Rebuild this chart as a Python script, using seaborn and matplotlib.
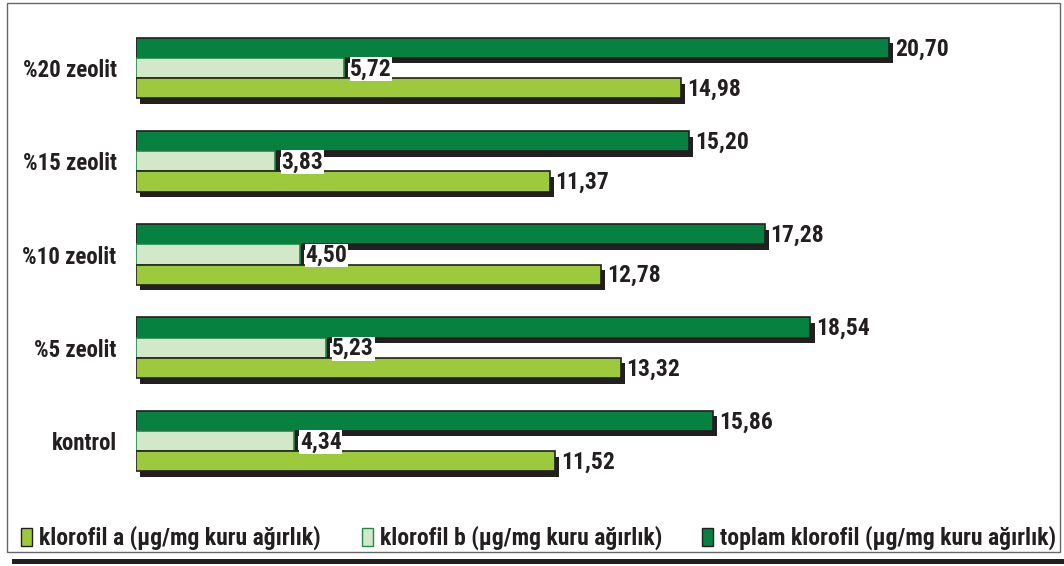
import numpy as np
import pandas as pd
import matplotlib
matplotlib.use('Agg')
import matplotlib.pyplot as plt
import seaborn as sns
from matplotlib import patheffects as pe
from matplotlib.patches import Rectangle, Patch
from matplotlib import font_manager as fm

categories = ['%20 zeolit', '%15 zeolit', '%10 zeolit', '%5 zeolit', 'kontrol']
klorofil_a = [14.98, 11.37, 12.78, 13.32, 11.52]
klorofil_b = [5.72, 3.83, 4.50, 5.23, 4.34]
toplam = [20.70, 15.20, 17.28, 18.54, 15.86]
series_names = ['klorofil a (µg/mg kuru ağırlık)',
                'klorofil b (µg/mg kuru ağırlık)',
                'toplam klorofil (µg/mg kuru ağırlık)']

col_a, col_b, col_t = '#9dca3c', '#d2e8c8', '#078140'
edge_a, edge_b, edge_t = '#231f20', '#1f8a4c', '#231f20'
shadow = '#231f20'

sns.set_theme(style='white')
bold_fams = {f.name for f in fm.fontManager.ttflist
             if isinstance(f.weight, int) and f.weight >= 700}
candidates = ['Liberation Sans Narrow', 'Archivo Narrow', 'Roboto Condensed', 'PT Sans Narrow',
              'Fira Sans Condensed', 'IBM Plex Sans Condensed', 'Asap Condensed',
              'Encode Sans Condensed', 'Saira SemiCondensed', 'Liberation Sans']
fam = next(c for c in candidates if c in bold_fams)
plt.rcParams['font.family'] = [fam, 'DejaVu Sans']
plt.rcParams['font.weight'] = 'bold'

df = pd.DataFrame({
    'category': categories * 3,
    'series': [series_names[0]] * 5 + [series_names[1]] * 5 + [series_names[2]] * 5,
    'value': klorofil_a + klorofil_b + toplam,
})

W, H = 1064, 566
fig = plt.figure(figsize=(W / 100, H / 100), dpi=100)
ax = fig.add_axes([136 / W, 1 - 487.6 / H, 909.5 / W, (487.6 - 21.4) / H])

hue_order = [series_names[2], series_names[1], series_names[0]]
palette = {series_names[0]: col_a, series_names[1]: col_b, series_names[2]: col_t}
sns.barplot(data=df, x='value', y='category', hue='series', hue_order=hue_order,
            order=categories, palette=palette, orient='h', width=0.65, gap=0,
            legend=False, ax=ax, saturation=1)

edges = [edge_t, edge_b, edge_a]
zs = [2, 3, 4]
for cont, ec, z in zip(ax.containers, edges, zs):
    for p in cont.patches:
        p.set_edgecolor(ec)
        p.set_linewidth(1.2)
        p.set_zorder(z)
        p.set_path_effects([pe.SimplePatchShadow(offset=(3, -4), shadow_rgbFace=shadow, alpha=1.0),
                            pe.Normal()])
    for p in cont.patches:
        v = p.get_width()
        yc = p.get_y() + p.get_height() / 2
        ax.annotate(f'{v:.2f}'.replace('.', ','), xy=(v, yc), xytext=(6, -1),
                    textcoords='offset pixels', ha='left', va='center',
                    fontsize=17, fontweight='bold', color='#231f20', zorder=6,
                    bbox=dict(facecolor='white', edgecolor='none', pad=0.3))

ax.set_xlim(0, 25)
ax.set_xlabel('')
ax.set_ylabel('')
ax.set_xticks([])
ax.tick_params(axis='y', length=0, pad=14, labelsize=16.5)
for lab in ax.get_yticklabels():
    lab.set_fontweight('bold')
    lab.set_color('#231f20')
for s in ax.spines.values():
    s.set_visible(False)
ax.set_facecolor('none')

handles = [Patch(facecolor=col_a, edgecolor=edge_a, lw=1),
           Patch(facecolor=col_b, edgecolor=edge_b, lw=1),
           Patch(facecolor=col_t, edgecolor=edge_t, lw=1)]
legend_x = [21, 362, 702]
for h, name, lx in zip(handles, series_names, legend_x):
    fig.legend([h], [name], loc='center left', bbox_to_anchor=(lx / W, 1 - 538 / H),
               frameon=False, handlelength=0.45, handleheight=0.8, borderpad=0,
               borderaxespad=0, handletextpad=0.3,
               prop={'size': 17, 'weight': 'bold'}, labelcolor='#231f20')

fig.add_artist(Rectangle((7 / W, 1 - 552 / H), (1060 - 7) / W, (552 - 3) / H,
                         transform=fig.transFigure, fill=False, edgecolor='#666666', lw=1))
fig.add_artist(Rectangle((12 / W, 1 - 564 / H), (1064 - 12) / W, 5 / H,
                         transform=fig.transFigure, facecolor=shadow, edgecolor='none'))

fig.savefig('out.png', dpi=100, facecolor='white')
